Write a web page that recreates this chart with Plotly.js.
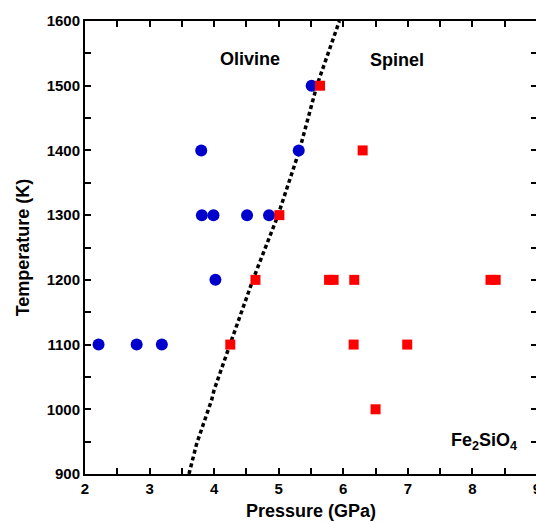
<!DOCTYPE html>
<html><head><meta charset="utf-8">
<script src="https://cdn.plot.ly/plotly-3.0.1.min.js"></script>
<style>html,body{margin:0;padding:0;overflow:hidden;background:#fff}</style>
</head><body><div id="chart"></div>
<script>
const olivineP = [2.21, 2.80, 3.19, 4.02, 3.81, 3.99, 4.51, 4.85, 3.80, 5.31, 5.51];
const olivineT = [1100, 1100, 1100, 1200, 1300, 1300, 1300, 1300, 1400, 1400, 1500];
const spinelP = [4.25, 6.16, 6.99, 6.50, 4.64, 5.78, 5.85, 6.17, 8.28, 8.36, 5.01, 6.30, 5.64];
const spinelT = [1100, 1100, 1100, 1000, 1200, 1200, 1200, 1200, 1200, 1200, 1300, 1400, 1500];
const boundaryP = [3.61, 3.73, 3.96, 4.00, 4.245, 4.60, 4.99, 5.32, 5.59, 5.94];
const boundaryT = [900, 947, 1014, 1030, 1100, 1200, 1300, 1400, 1500, 1600];

const font = {family: 'Liberation Sans, Arial, sans-serif', color: '#000', weight: 'bold'};
const traces = [
  {x: boundaryP, y: boundaryT, mode: 'lines', line: {color: '#000', width: 3.5, dash: '4px,3px'}, hoverinfo: 'skip'},
  {x: olivineP, y: olivineT, mode: 'markers', marker: {symbol: 'circle', size: 12, color: '#0000CC'}},
  {x: spinelP, y: spinelT, mode: 'markers', marker: {symbol: 'square', size: 10, color: '#FF0000'}}
];
const axisCommon = {
  showgrid: false, zeroline: false, showline: true, linecolor: '#000', linewidth: 2,
  mirror: 'ticks', ticks: 'inside', ticklen: 6, tickwidth: 2, tickcolor: '#000',
  tickfont: Object.assign({size: 15}, font)
};
const layout = {
  width: 545, height: 524,
  margin: {l: 85, r: 8, t: 21, b: 50},
  showlegend: false,
  plot_bgcolor: '#fff', paper_bgcolor: '#fff',
  xaxis: Object.assign({}, axisCommon, {
    range: [2, 9], dtick: 1,
    minor: {dtick: 0.5, ticks: 'inside', ticklen: 6, tickwidth: 2, tickcolor: '#000'},
    title: {text: 'Pressure (GPa)', font: Object.assign({size: 18}, font), standoff: 8}
  }),
  yaxis: Object.assign({}, axisCommon, {
    range: [900, 1600], dtick: 100,
    minor: {dtick: 50, ticks: 'inside', ticklen: 6, tickwidth: 2, tickcolor: '#000'},
    title: {text: 'Temperature (K)', font: Object.assign({size: 18}, font), standoff: 12}
  }),
  annotations: [
    {x: 4.555, y: 1541, text: 'Olivine', showarrow: false, font: Object.assign({size: 18}, font)},
    {x: 6.83, y: 1540, text: 'Spinel', showarrow: false, font: Object.assign({size: 18}, font)},
    {x: 8.18, y: 950, text: 'Fe<sub>2</sub>SiO<sub>4</sub>', showarrow: false, font: Object.assign({size: 18}, font)}
  ]
};
Plotly.newPlot('chart', traces, layout, {displayModeBar: false, staticPlot: true});
</script></body></html>
